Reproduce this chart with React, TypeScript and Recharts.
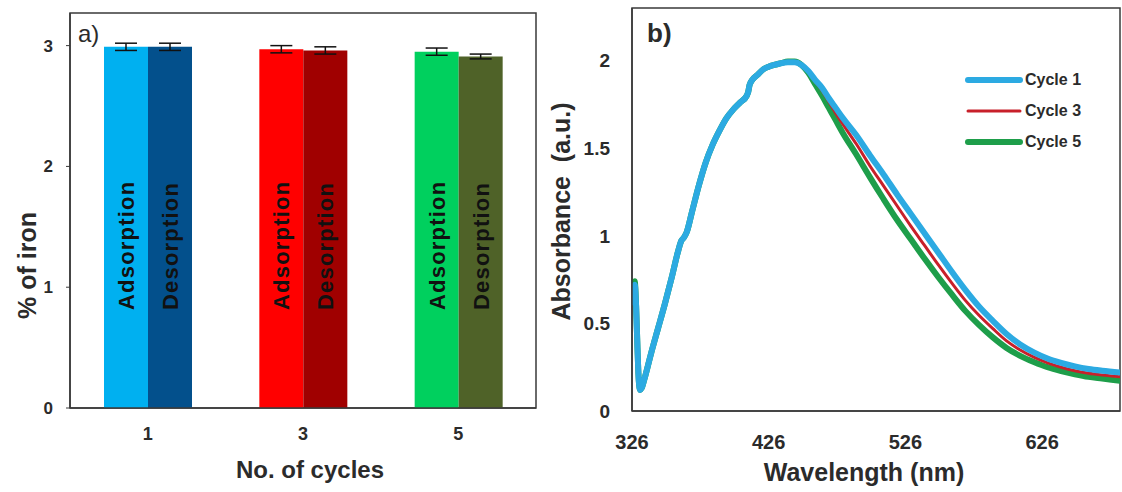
import React from 'react';
import {
  BarChart, Bar, LineChart, Line, XAxis, YAxis, ErrorBar, Cell, LabelList, Legend, ReferenceArea,
} from 'recharts';

// panel a) iron % per cycle
const CYCLES = ['1', '3', '5'];
const ADSORPTION = [2.99, 2.97, 2.95];
const DESORPTION = [2.99, 2.96, 2.91];
const ADS_ERR = [0.03, 0.03, 0.03];
const DES_ERR = [0.03, 0.03, 0.02];
const ADS_COLORS = ['#00B0F0', '#FF0000', '#00D05E'];
const DES_COLORS = ['#03508C', '#A00000', '#4F6228'];

// panel b) UV-vis spectra
const WAVELENGTH = [
  326, 327, 328, 329, 330, 331, 332, 333, 335, 340, 345, 350, 355, 360, 362, 364, 366, 370, 375, 380,
  385, 390, 395, 400, 405, 410, 411, 412, 414, 418, 422, 426, 430, 435, 440, 445, 450, 455, 460, 465,
  470, 475, 480, 490, 500, 510, 520, 530, 540, 550, 560, 570, 580, 590, 600, 610, 620, 630, 640, 650,
  660, 670, 683,
];
const CYCLE_1 = [
  0.62, 0.7, 0.72, 0.6, 0.36, 0.17, 0.12, 0.13, 0.18, 0.33, 0.47, 0.61, 0.76, 0.92, 0.97, 0.99, 1.02, 1.14, 1.29, 1.42,
  1.52, 1.6, 1.67, 1.72, 1.76, 1.8, 1.82, 1.86, 1.89, 1.92, 1.95, 1.965, 1.975, 1.985, 1.99, 1.99, 1.975, 1.94, 1.89, 1.845,
  1.785, 1.73, 1.675, 1.575, 1.46, 1.35, 1.235, 1.125, 1.015, 0.905, 0.795, 0.69, 0.595, 0.515, 0.44, 0.38, 0.335, 0.3, 0.275, 0.255,
  0.24, 0.23, 0.22,
];
const CYCLE_3 = [
  0.62, 0.7, 0.72, 0.6, 0.36, 0.17, 0.12, 0.13, 0.18, 0.33, 0.47, 0.61, 0.76, 0.92, 0.97, 0.99, 1.02, 1.14, 1.29, 1.42,
  1.52, 1.6, 1.67, 1.72, 1.76, 1.8, 1.82, 1.86, 1.89, 1.92, 1.95, 1.965, 1.975, 1.985, 1.99, 1.99, 1.975, 1.94, 1.88, 1.83,
  1.765, 1.7, 1.64, 1.525, 1.4, 1.285, 1.17, 1.055, 0.945, 0.835, 0.73, 0.63, 0.545, 0.47, 0.4, 0.348, 0.307, 0.275, 0.25, 0.23,
  0.216, 0.206, 0.196,
];
const CYCLE_5 = [
  0.64, 0.72, 0.74, 0.6, 0.36, 0.17, 0.12, 0.13, 0.18, 0.33, 0.47, 0.61, 0.76, 0.92, 0.97, 0.99, 1.02, 1.14, 1.29, 1.42,
  1.52, 1.6, 1.67, 1.72, 1.76, 1.8, 1.82, 1.86, 1.89, 1.92, 1.95, 1.965, 1.975, 1.985, 1.995, 1.995, 1.975, 1.93, 1.865, 1.8,
  1.73, 1.66, 1.59, 1.465, 1.335, 1.21, 1.09, 0.98, 0.87, 0.765, 0.665, 0.57, 0.49, 0.42, 0.36, 0.315, 0.28, 0.25, 0.228, 0.21,
  0.195, 0.185, 0.172,
];

const WL_TICKS = [326, 426, 526, 626];
const ABS_TICKS = [0, 0.5, 1, 1.5, 2];
const IRON_TICKS = [0, 1, 2, 3];
const WL_DOMAIN = [326, 683];
const ABS_DOMAIN = [0, 2.3];
const IRON_DOMAIN = [0, 3.27];

// drawn back to front
const SERIES = [
  { key: 'c5', name: 'Cycle 5', color: '#1E9E4A', width: 6 },
  { key: 'c3', name: 'Cycle 3', color: '#C8202A', width: 3 },
  { key: 'c1', name: 'Cycle 1', color: '#2CAAE2', width: 6 },
];

const FONT = '"Liberation Sans", Arial, sans-serif';
const INK = '#2b2b2b';
const FRAME = '#3a3a3a';

const barRows = CYCLES.map((cycle, i) => ({
  cycle,
  ads: ADSORPTION[i],
  des: DESORPTION[i],
  adsErr: ADS_ERR[i],
  desErr: DES_ERR[i],
  adsName: 'Adsorption',
  desName: 'Desorption',
}));

const spectrum = WAVELENGTH.map((wl, i) => ({ wl, c1: CYCLE_1[i], c3: CYCLE_3[i], c5: CYCLE_5[i] }));

const tickStyle = (size: number) => ({ fill: INK, fontSize: size, fontWeight: 700, fontFamily: FONT });

const rotated = (cx: number, cy: number, text: string, size: number) => (
  <text
    x={cx}
    y={cy}
    transform={`rotate(-90 ${cx} ${cy})`}
    textAnchor="middle"
    dominantBaseline="central"
    fill={INK}
    fontSize={size}
    fontWeight={700}
    fontFamily={FONT}
    style={{ whiteSpace: 'pre' }}
  >
    {text}
  </text>
);

const inBarText = (props: any) => {
  const { x, y, width, height, value } = props;
  const cx = Number(x) + Number(width) / 2;
  const sy = Number(y) + Number(height) - 98;
  return (
    <text
      x={cx}
      y={sy}
      dy="0.36em"
      transform={`rotate(-90 ${cx} ${sy})`}
      textAnchor="start"
      fill="#111"
      fontSize={22}
      fontWeight={700}
      fontFamily={FONT}
      letterSpacing={1.2}
    >
      {value}
    </text>
  );
};

const panelTag = (tag: string, dx: number, dy: number, size: number, weight: number) => (p: any) => {
  const vb = p.viewBox;
  return (
    <text x={vb.x + dx} y={vb.y + dy} fill={INK} fontSize={size} fontWeight={weight} fontFamily={FONT}>
      {tag}
    </text>
  );
};

const SpectraLegend = (props: any) => {
  const items = [...(props.payload || [])].sort((a, b) => String(a.value).localeCompare(String(b.value)));
  return (
    <div style={{ fontFamily: FONT }}>
      {items.map((it) => {
        const s = SERIES.find((q) => q.name === it.value);
        return (
          <div key={it.value} style={{ display: 'flex', alignItems: 'center', height: 31 }}>
            <svg width={58} height={10}>
              <line x1={3} y1={5} x2={55} y2={5} stroke={it.color} strokeWidth={s ? s.width : 4} strokeLinecap="round" />
            </svg>
            <span style={{ marginLeft: 2, fontSize: 16, fontWeight: 700, color: INK }}>{it.value}</span>
          </div>
        );
      })}
    </div>
  );
};

export default function App() {
  return (
    <div style={{ position: 'absolute', left: 0, top: 0, width: 1122, height: 492, background: '#fff' }}>
      <div style={{ position: 'absolute', left: 0, top: 0 }}>
        <BarChart width={545} height={492} data={barRows} margin={{ top: 13, right: 9, left: 0, bottom: 54 }} barGap={0} barSize={44}>
          <XAxis
            dataKey="cycle"
            tickLine={false}
            tickSize={0}
            tickMargin={19}
            axisLine={{ stroke: FRAME, strokeWidth: 1.5 }}
            tick={tickStyle(18)}
            height={30}
            label={{
              content: (p: any) => {
                const vb = p.viewBox;
                return (
                  <text x={vb.x + vb.width / 2 + 7} y={vb.y + 70} textAnchor="middle" fill={INK} fontSize={24} fontWeight={700} fontFamily={FONT}>
                    No. of cycles
                  </text>
                );
              },
            }}
          />
          <YAxis
            domain={IRON_DOMAIN}
            ticks={IRON_TICKS}
            width={70}
            tickSize={4}
            tickMargin={13}
            tickLine={{ stroke: FRAME }}
            axisLine={{ stroke: FRAME, strokeWidth: 1.5 }}
            tick={tickStyle(17)}
            allowDataOverflow
            label={{
              content: (p: any) => {
                const vb = p.viewBox;
                return rotated(vb.x + 27, vb.y + vb.height / 2 + 55, '% of iron', 25);
              },
            }}
          />
          <ReferenceArea
            x1={CYCLES[0]}
            x2={CYCLES[CYCLES.length - 1]}
            y1={IRON_DOMAIN[0]}
            y2={IRON_DOMAIN[1]}
            fill="none"
            fillOpacity={0}
            stroke={FRAME}
            strokeWidth={1.5}
            ifOverflow="visible"
            label={{ content: panelTag('a)', 8, 29, 24, 400) }}
          />
          <Bar dataKey="ads" isAnimationActive={false}>
            {barRows.map((r, i) => (
              <Cell key={`a${r.cycle}`} fill={ADS_COLORS[i]} />
            ))}
            <ErrorBar dataKey="adsErr" width={11} stroke="#111" strokeWidth={1.5} direction="y" />
            <LabelList dataKey="adsName" content={inBarText} />
          </Bar>
          <Bar dataKey="des" isAnimationActive={false}>
            {barRows.map((r, i) => (
              <Cell key={`d${r.cycle}`} fill={DES_COLORS[i]} />
            ))}
            <ErrorBar dataKey="desErr" width={11} stroke="#111" strokeWidth={1.5} direction="y" />
            <LabelList dataKey="desName" content={inBarText} />
          </Bar>
        </BarChart>
      </div>

      <div style={{ position: 'absolute', left: 545, top: 0 }}>
        <LineChart width={577} height={492} data={spectrum} margin={{ top: 8, right: 2, left: 0, bottom: 51 }}>
          <XAxis
            dataKey="wl"
            type="number"
            domain={WL_DOMAIN}
            ticks={WL_TICKS}
            allowDataOverflow
            tickLine={false}
            tickSize={0}
            tickMargin={24}
            axisLine={{ stroke: FRAME, strokeWidth: 1.5 }}
            tick={tickStyle(20)}
            height={30}
            label={{
              content: (p: any) => {
                const vb = p.viewBox;
                return (
                  <text x={vb.x + vb.width / 2 - 12} y={vb.y + 70} textAnchor="middle" fill={INK} fontSize={25} fontWeight={700} fontFamily={FONT}>
                    Wavelength (nm)
                  </text>
                );
              },
            }}
          />
          <YAxis
            domain={ABS_DOMAIN}
            ticks={ABS_TICKS}
            width={87}
            tickLine={false}
            tickSize={0}
            tickMargin={22}
            axisLine={{ stroke: FRAME, strokeWidth: 1.5 }}
            tick={tickStyle(19)}
            allowDataOverflow
            label={{
              content: (p: any) => {
                const vb = p.viewBox;
                return rotated(vb.x + 16, vb.y + vb.height / 2 + 2, 'Absorbance  (a.u.)', 25);
              },
            }}
          />
          <ReferenceArea
            x1={WL_DOMAIN[0]}
            x2={WL_DOMAIN[1]}
            y1={ABS_DOMAIN[0]}
            y2={ABS_DOMAIN[1]}
            fill="none"
            fillOpacity={0}
            stroke={FRAME}
            strokeWidth={1.5}
            ifOverflow="visible"
            label={{ content: panelTag('b)', 15, 34, 26, 700) }}
          />
          <Legend
            layout="horizontal"
            verticalAlign="middle"
            align="center"
            content={SpectraLegend}
            wrapperStyle={{ position: 'absolute', left: 420, top: 64, width: 150 }}
          />
          {SERIES.map((s) => (
            <Line
              key={s.key}
              dataKey={s.key}
              name={s.name}
              type="monotone"
              stroke={s.color}
              strokeWidth={s.width}
              dot={false}
              activeDot={false}
              isAnimationActive={false}
              strokeLinejoin="round"
              strokeLinecap="round"
            />
          ))}
        </LineChart>
      </div>
    </div>
  );
}
